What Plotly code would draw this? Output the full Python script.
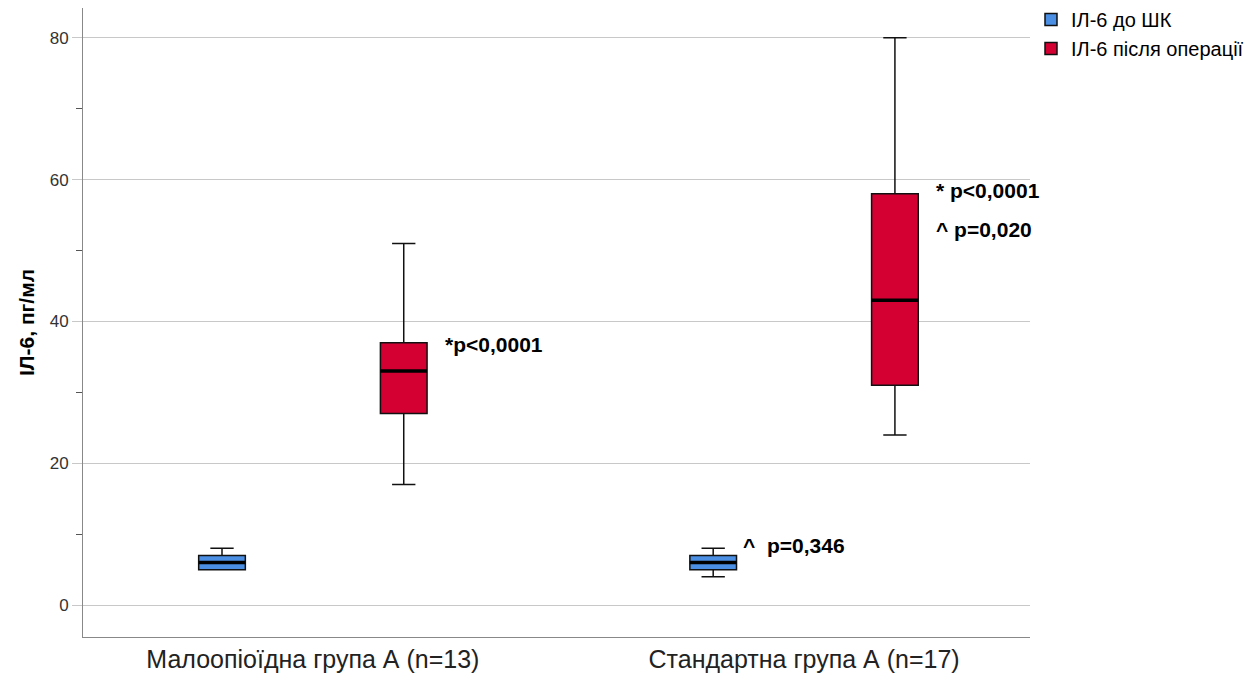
import plotly.graph_objects as go

categories = ["Малоопіоїдна група А (n=13)", "Стандартна група А (n=17)"]
series_names = ["ІЛ-6 до ШК", "ІЛ-6 після операції"]

before_low = [5, 4]
before_q1 = [5, 5]
before_med = [6, 6]
before_q3 = [7, 7]
before_high = [8, 8]

after_low = [17, 24]
after_q1 = [27, 31]
after_med = [33, 43]
after_q3 = [37, 58]
after_high = [51, 80]

ann_texts = ["*p<0,0001", "* p<0,0001", "^ p=0,020", "^  p=0,346"]
ann_y = [36.8, 58.4, 52.9, 8.4]
ann_cat = [0, 1, 1, 1]
ann_series = [1, 1, 1, 0]

# styling (pixel gaps between box edge and label)
ann_gap_px = [16, 16, 16, 4]

colors = ["#4A8FE3", "#D50032"]
offset = 0.185
bw = 0.095
idx = list(range(len(categories)))

stats = [
    (before_low, before_q1, before_med, before_q3, before_high),
    (after_low, after_q1, after_med, after_q3, after_high),
]

fig = go.Figure()
for s, (lo, q1, med, q3, hi) in enumerate(stats):
    off = -offset if s == 0 else offset
    xs = [i + off for i in idx]
    fig.add_trace(go.Box(
        x=xs, q1=q1, median=med, q3=q3, lowerfence=lo, upperfence=hi,
        width=bw, name=series_names[s], fillcolor=colors[s],
        line=dict(color="#111111", width=1.5), whiskerwidth=0.5,
        boxpoints=False, hoverinfo="skip",
    ))
    mx, my = [], []
    for x, m in zip(xs, med):
        mx += [x - bw / 2, x + bw / 2, None]
        my += [m, m, None]
    fig.add_trace(go.Scatter(x=mx, y=my, mode="lines",
                             line=dict(color="#000000", width=3.5),
                             showlegend=False, hoverinfo="skip"))

for t, yv, c, s, g in zip(ann_texts, ann_y, ann_cat, ann_series, ann_gap_px):
    off = -offset if s == 0 else offset
    fig.add_annotation(x=c + off + bw / 2, y=yv, text="<b>" + t + "</b>",
                       xanchor="left", yanchor="middle", showarrow=False,
                       xshift=g, font=dict(family="Liberation Sans, Arial, sans-serif",
                                           size=21, color="#000000"))

fig.update_layout(
    width=1255, height=677,
    margin=dict(l=83, r=225, t=8, b=40),
    paper_bgcolor="white", plot_bgcolor="white",
    boxmode="overlay",
    showlegend=True,
    legend=dict(xref="container", yref="container", x=1031 / 1255, y=1.0,
                xanchor="left", yanchor="top",
                font=dict(family="Liberation Sans, Arial, sans-serif", size=20, color="#000000"),
                tracegroupgap=0, itemwidth=30, bgcolor="rgba(0,0,0,0)"),
    font=dict(family="Liberation Sans, Arial, sans-serif", color="#000000"),
)
fig.update_xaxes(
    range=[-0.468, 1.46], tickvals=idx, ticktext=categories, automargin=False,
    showgrid=False, zeroline=False, showline=True, linecolor="#888888", linewidth=1,
    ticks="", tickfont=dict(family="Liberation Sans, Arial, sans-serif", size=25, color="#222222"),
)
fig.update_yaxes(
    range=[-4.5, 84.2], tickvals=[0, 20, 40, 60, 80], automargin=False,
    showgrid=True, gridcolor="#C8C8C8", gridwidth=1, zeroline=False,
    showline=True, linecolor="#888888", linewidth=1,
    ticks="outside", ticklen=10, tickcolor="#C8C8C8",
    minor=dict(tickvals=[10, 30, 50, 70], ticks="outside", ticklen=6, tickcolor="#555555", showgrid=False),
    tickfont=dict(family="Liberation Sans, Arial, sans-serif", size=17, color="#333333"),
    title=dict(text="<b>ІЛ-6, пг/мл</b>", standoff=9,
               font=dict(family="Liberation Sans, Arial, sans-serif", size=21, color="#000000")),
)

fig.write_html("out.html", config={"displayModeBar": False},
               post_script="document.body.style.margin='0';")
